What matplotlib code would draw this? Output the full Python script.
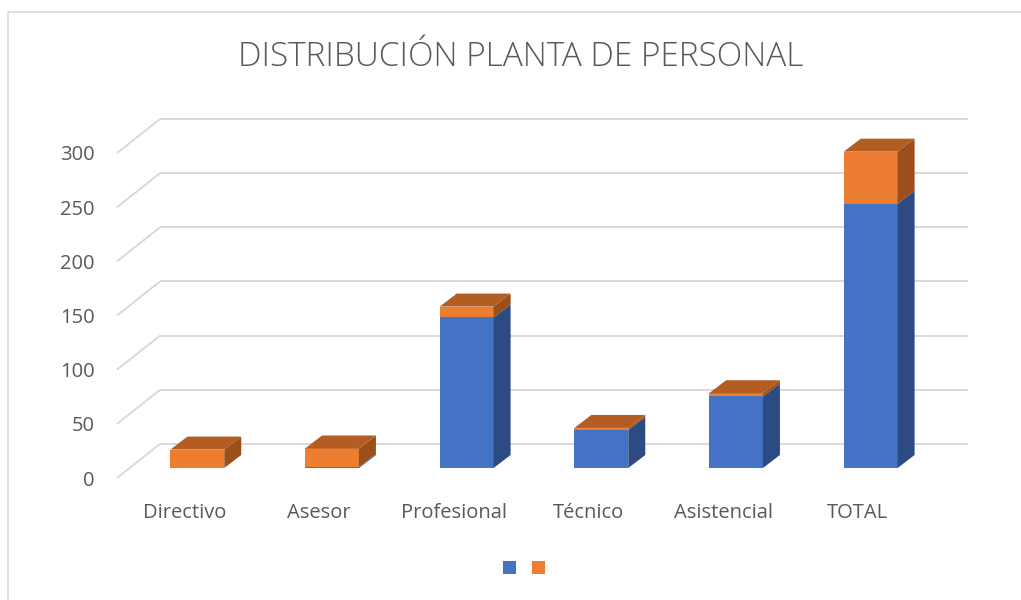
import matplotlib
matplotlib.use("Agg")
import matplotlib.pyplot as plt
from matplotlib.patches import Polygon, Rectangle, Patch
import numpy as np

categories = ["Directivo", "Asesor", "Profesional", "Técnico", "Asistencial", "TOTAL"]
serie_azul = [0, 1, 139, 35, 66, 244]
serie_naranja = [17, 17, 10, 2, 3, 48]
y_ticks = [0, 50, 100, 150, 200, 250, 300]
title = "DISTRIBUCIÓN PLANTA DE PERSONAL"

W, H = 1021, 600
fig = plt.figure(figsize=(W / 100, H / 100), dpi=100)
fig.patch.set_facecolor("white")

# floor-front plane axes (pixel geometry)
L, R, B0, T0 = 117, 925, 478, 153
ax = fig.add_axes([L / W, 1 - B0 / H, (R - L) / W, (B0 - T0) / H])
ax.set_xlim(-0.5, len(categories) - 0.5)
ax.set_ylim(0, 300)
ax.patch.set_alpha(0)
for s in ax.spines.values():
    s.set_visible(False)

text_col = "#595959"
grid_col = "#D9D9D9"
blue = "#4472C4"
blue_side = "#2C4B82"
blue_top = "#3A62A8"
orange = "#ED7D31"
orange_top = "#B45D22"
orange_side = "#9B501B"

# pixel -> data scale
p0 = ax.transData.transform((0, 0))
p1 = ax.transData.transform((1, 1))
sx, sy = p1[0] - p0[0], p1[1] - p0[1]

def off(dx_px, dy_px):
    return dx_px / sx, dy_px / sy

fx, fy = off(13, 10)      # bar front plane offset
bx, by = off(17, 13)      # bar depth
wx, wy = off(43, 34)      # back wall offset

# gridlines: back wall + left wall diagonals
x0, x1 = -0.5, len(categories) - 0.5
for v in y_ticks:
    ax.plot([x0 + wx, x1 + wx], [v + wy, v + wy], color=grid_col, lw=1.4,
            clip_on=False, zorder=1, solid_capstyle="butt")
    ax.plot([x0, x0 + wx], [v, v + wy], color=grid_col, lw=1.4,
            clip_on=False, zorder=1, solid_capstyle="butt")

bw = 0.40
xs = np.arange(len(categories))
for i, (a, o) in enumerate(zip(serie_azul, serie_naranja)):
    xl = xs[i] - bw / 2 + fx
    xr = xs[i] + bw / 2 + fx
    segs = [(0 + fy, a + fy, blue, blue_side), (a + fy, a + o + fy, orange, orange_side)]
    for (y0, y1, cf, cs) in segs:
        if y1 - y0 <= 0:
            continue
        ax.add_patch(Rectangle((xl, y0), xr - xl, y1 - y0, facecolor=cf,
                               edgecolor="none", zorder=3, clip_on=False))
        ax.add_patch(Polygon([(xr, y0), (xr + bx, y0 + by), (xr + bx, y1 + by), (xr, y1)],
                             closed=True, facecolor=cs, edgecolor="none", zorder=3, clip_on=False))
    top = a + o + fy
    ax.add_patch(Polygon([(xl, top), (xr, top), (xr + bx, top + by), (xl + bx, top + by)],
                         closed=True, facecolor=orange_top if o > 0 else blue_top,
                         edgecolor="none", zorder=3, clip_on=False))

font = "Open Sans"
ax.set_yticks(y_ticks)
ax.set_yticklabels([str(t) for t in y_ticks], fontsize=14.5, color=text_col, family=font)
ax.set_xticks(xs)
ax.set_xticklabels(categories, fontsize=14.5, color=text_col, family=font)
ax.tick_params(axis="y", length=0, pad=16)
ax.tick_params(axis="x", length=0, pad=18)

fig.text(521 / W, 1 - 57 / H, title, ha="center", va="center", fontsize=24,
         color=text_col, family=font, fontweight="light")

fig.legend(handles=[Patch(facecolor=blue), Patch(facecolor=orange)], labels=["", ""],
           ncol=2, loc="center", bbox_to_anchor=(524 / W, 1 - 569 / H), frameon=False,
           handlelength=0.66, handleheight=0.66, handletextpad=0, columnspacing=0.85,
           fontsize=14)

# chart area border
fig.add_artist(Rectangle((8 / W, -0.1), 1.2, 1 - 12 / H + 0.1, transform=fig.transFigure,
                         fill=False, edgecolor=grid_col, lw=1.2))

fig.savefig("out.png", dpi=100)
